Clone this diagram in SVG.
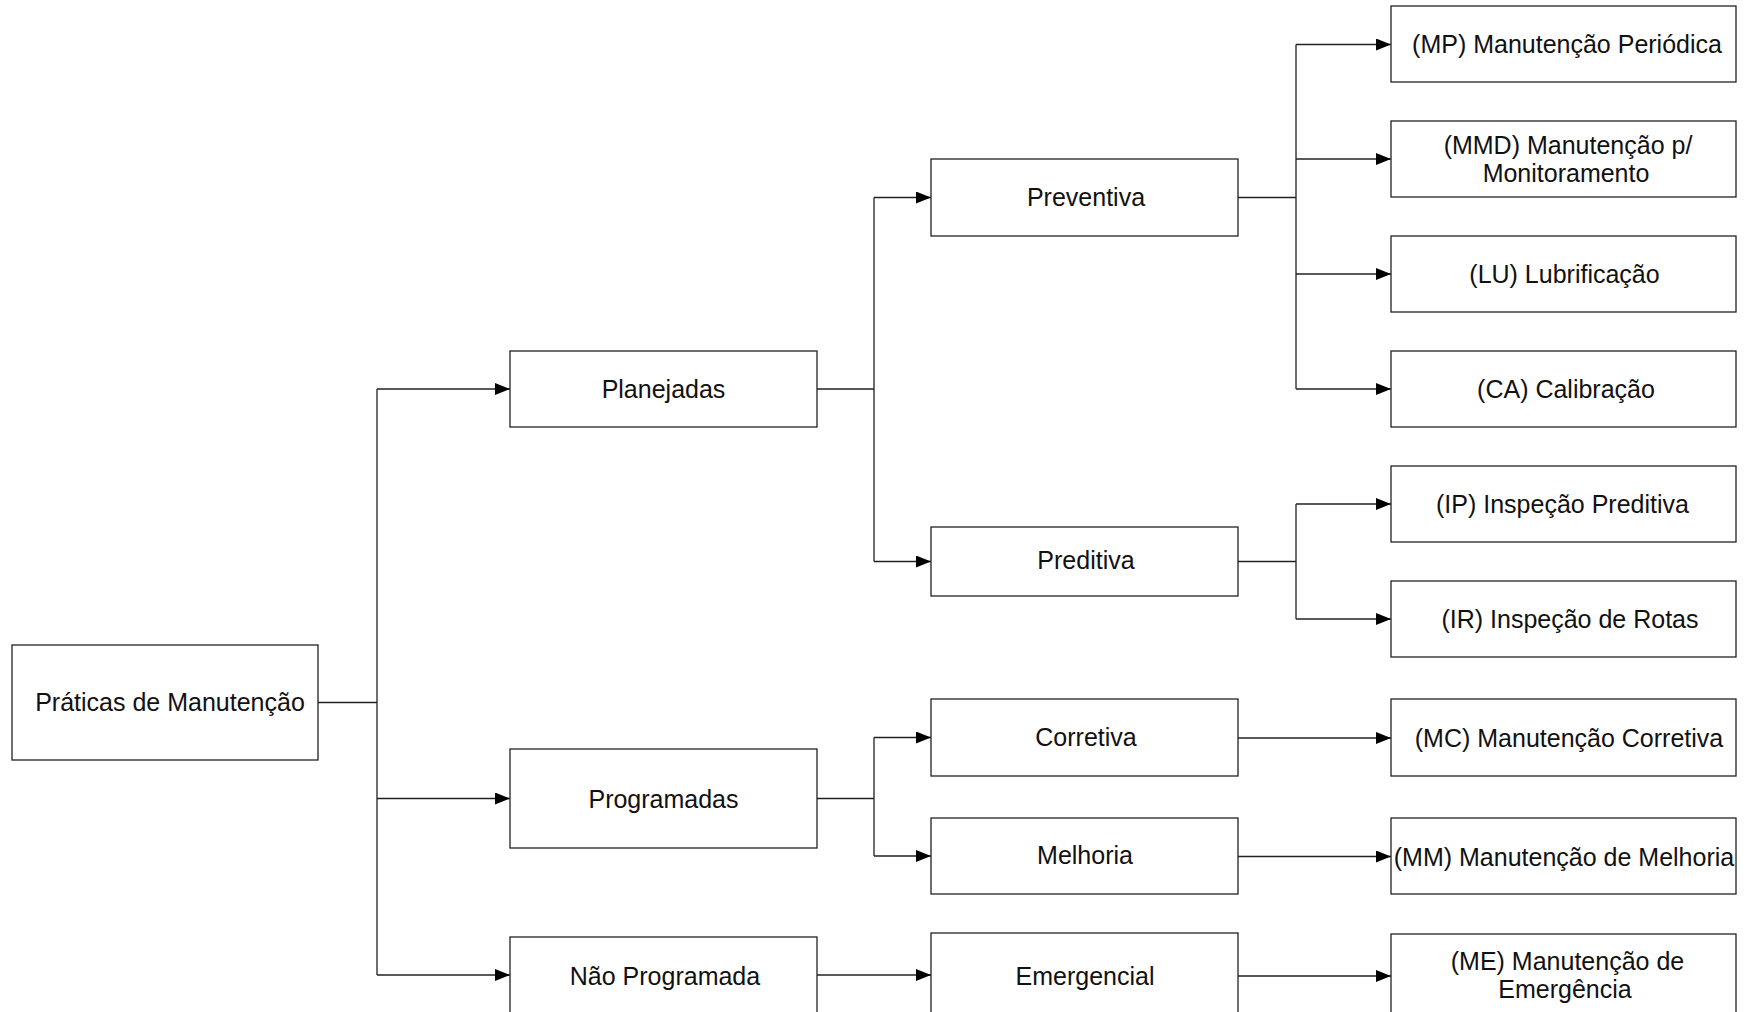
<svg xmlns="http://www.w3.org/2000/svg" width="1746" height="1012" viewBox="0 0 1746 1012">
<defs>
<marker id="arr" markerUnits="userSpaceOnUse" markerWidth="15" markerHeight="12" refX="15" refY="6" orient="auto">
<path d="M0,0 L15,6 L0,12 z" fill="#000"/>
</marker>
<style>
.box{fill:#fff;stroke:#222;stroke-width:1.3}
.t{font-family:"Liberation Sans",Arial,sans-serif;font-size:25px;fill:#111;text-anchor:middle}
.ln{fill:none;stroke:#222;stroke-width:1.3}
.a{fill:none;stroke:#222;stroke-width:1.3;marker-end:url(#arr)}
</style>
</defs>
<rect width="1746" height="1012" fill="#fff"/>
<g id="connectors">
<path class="ln" d="M318 702.5 H377 M377 389 V975"/>
<path class="a" d="M377 389 H510"/>
<path class="a" d="M377 798.5 H510"/>
<path class="a" d="M377 975 H510"/>
<path class="ln" d="M817 389 H874 M874 197.5 V561.5"/>
<path class="a" d="M874 197.5 H931"/>
<path class="a" d="M874 561.5 H931"/>
<path class="ln" d="M817 798.5 H874 M874 737.5 V856"/>
<path class="a" d="M874 737.5 H931"/>
<path class="a" d="M874 856 H931"/>
<path class="a" d="M817 975 H931"/>
<path class="ln" d="M1238 197.5 H1296 M1296 44.5 V389"/>
<path class="a" d="M1296 44.5 H1391"/>
<path class="a" d="M1296 159 H1391"/>
<path class="a" d="M1296 274 H1391"/>
<path class="a" d="M1296 389 H1391"/>
<path class="ln" d="M1238 561.5 H1296 M1296 504 V619"/>
<path class="a" d="M1296 504 H1391"/>
<path class="a" d="M1296 619 H1391"/>
<path class="a" d="M1238 738 H1391"/>
<path class="a" d="M1238 856.5 H1391"/>
<path class="a" d="M1238 976 H1391"/>
</g>
<g id="praticas"><rect class="box" x="12" y="645" width="306" height="115"/><text class="t" x="170" y="711">Práticas de Manutenção</text></g>
<g id="planejadas"><rect class="box" x="510" y="351" width="307" height="76"/><text class="t" x="663.5" y="398">Planejadas</text></g>
<g id="programadas"><rect class="box" x="510" y="749" width="307" height="99"/><text class="t" x="663.5" y="807.5">Programadas</text></g>
<g id="nao-programada"><rect class="box" x="510" y="937" width="307" height="90"/><text class="t" x="665" y="985">Não Programada</text></g>
<g id="preventiva"><rect class="box" x="931" y="159" width="307" height="77"/><text class="t" x="1086" y="206">Preventiva</text></g>
<g id="preditiva"><rect class="box" x="931" y="527" width="307" height="69"/><text class="t" x="1086" y="569">Preditiva</text></g>
<g id="corretiva"><rect class="box" x="931" y="699" width="307" height="77"/><text class="t" x="1086" y="746">Corretiva</text></g>
<g id="melhoria"><rect class="box" x="931" y="818" width="307" height="76"/><text class="t" x="1085" y="863.5">Melhoria</text></g>
<g id="emergencial"><rect class="box" x="931" y="933" width="307" height="95"/><text class="t" x="1085" y="984.5">Emergencial</text></g>
<g id="mp"><rect class="box" x="1391" y="6" width="345" height="76"/><text class="t" x="1567" y="52.5">(MP) Manutenção Periódica</text></g>
<g id="mmd"><rect class="box" x="1391" y="121" width="345" height="76"/><text class="t" x="1568" y="154">(MMD) Manutenção p/</text><text class="t" x="1566" y="182">Monitoramento</text></g>
<g id="lu"><rect class="box" x="1391" y="236" width="345" height="76"/><text class="t" x="1564.5" y="282.5">(LU) Lubrificação</text></g>
<g id="ca"><rect class="box" x="1391" y="351" width="345" height="76"/><text class="t" x="1566" y="398">(CA) Calibração</text></g>
<g id="ip"><rect class="box" x="1391" y="466" width="345" height="76"/><text class="t" x="1562.5" y="513">(IP) Inspeção Preditiva</text></g>
<g id="ir"><rect class="box" x="1391" y="581" width="345" height="76"/><text class="t" x="1570" y="628">(IR) Inspeção de Rotas</text></g>
<g id="mc"><rect class="box" x="1391" y="699" width="345" height="77"/><text class="t" x="1569" y="747">(MC) Manutenção Corretiva</text></g>
<g id="mm"><rect class="box" x="1391" y="818" width="345" height="76"/><text class="t" x="1564" y="866">(MM) Manutenção de Melhoria</text></g>
<g id="me"><rect class="box" x="1391" y="934" width="345" height="95"/><text class="t" x="1567.5" y="970">(ME) Manutenção de</text><text class="t" x="1565" y="998">Emergência</text></g>
</svg>
